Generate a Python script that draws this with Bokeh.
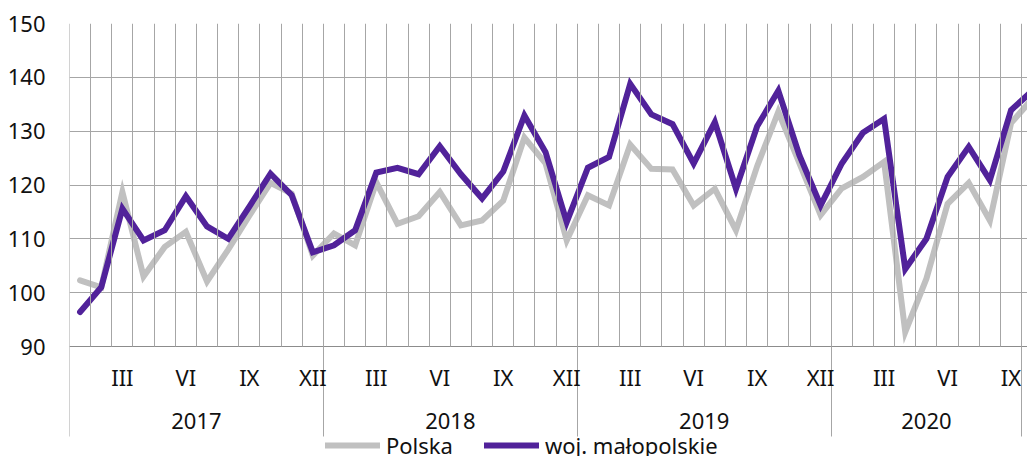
from bokeh.plotting import figure
from bokeh.models import Range1d, FixedTicker, LinearAxis, Legend, LegendItem
from bokeh.embed import file_html
from bokeh.resources import INLINE

# ---- data -------------------------------------------------------------
years = ["2017", "2018", "2019", "2020"]
year_group_sizes = [12, 12, 12, 9]          # months shown per year group on the axis
month_marks = {3: "III", 6: "VI", 9: "IX", 12: "XII"}
y_ticks = [90, 100, 110, 120, 130, 140, 150]

polska = [
    102.3, 101.0, 118.7, 103.0, 108.5, 111.3, 102.1, 108.0, 114.3, 120.4, 118.4, 106.9,
    111.0, 108.8, 120.5, 112.8, 114.2, 118.7, 112.5, 113.4, 117.1, 128.8, 124.0, 109.7,
    118.1, 116.2, 127.5, 123.0, 122.9, 116.2, 119.3, 111.6, 123.5, 133.6, 124.0, 114.4,
    119.4, 121.5, 124.3, 92.7, 102.6, 116.5, 120.4, 113.4, 131.5, 136.0,
]
malopolskie = [
    96.4, 101.0, 115.6, 109.7, 111.6, 117.9, 112.3, 110.0, 116.0, 122.1, 118.1, 107.5,
    108.8, 111.6, 122.3, 123.2, 122.0, 127.2, 122.0, 117.5, 122.5, 132.9, 126.1, 113.1,
    123.2, 125.2, 138.8, 133.1, 131.3, 124.0, 131.7, 119.3, 130.9, 137.5, 125.5, 116.2,
    124.0, 129.7, 132.3, 104.4, 110.0, 121.5, 127.1, 120.9, 133.9, 137.5,
]

# ---- derived positions (month index = category centre) ----------------
x = list(range(len(polska)))
month_ticks, month_labels = [], {}
year_centers, year_labels, dividers = [], {}, [-0.5]
start = 0
for yname, size in zip(years, year_group_sizes):
    for m, lab in month_marks.items():
        if m <= size:
            t = float(start + m - 1)
            month_ticks.append(t)
            month_labels[t] = lab
    c = start + size / 2 - 0.5
    year_centers.append(c)
    year_labels[c] = yname
    start += size
    dividers.append(start - 0.5)
boundaries = [k - 0.5 for k in range(0, 50)]

FONT = "Noto Sans"
FS = "22px"
TXT = "#111111"
GRID = "#a6a6a6"
GRAY = "#c0c0c0"
PURPLE = "#51229a"

# layout geometry (pixels)
PLOT_H = 323            # height of the 90..150 band
EXTRA_H = 124           # room below the band for category labels and legend
DIV_LEN = 90
y_min, y_max = min(y_ticks), max(y_ticks)
y_start = y_min - EXTRA_H * (y_max - y_min) / PLOT_H

p = figure(frame_width=979, frame_height=PLOT_H + EXTRA_H, output_backend="svg",
           toolbar_location=None, x_axis_location=None,
           x_range=Range1d(-0.5, 45.77), y_range=Range1d(y_start, y_max),
           min_border_left=69, min_border_top=23, min_border_right=0, min_border_bottom=0)
p.outline_line_color = None
p.background_fill_color = "white"

# y axis
ya = p.yaxis[0]
ya.ticker = FixedTicker(ticks=y_ticks)
ya.axis_line_color = None
ya.major_tick_line_color = None
ya.major_tick_out = 0
ya.major_tick_in = 0
ya.minor_tick_line_color = None
ya.minor_tick_out = 0
ya.major_label_standoff = 24
ya.major_label_text_font = FONT
ya.major_label_text_font_size = FS
ya.major_label_text_color = TXT

p.xgrid.visible = False
p.ygrid.ticker = FixedTicker(ticks=y_ticks)
p.ygrid.grid_line_color = GRID

# category axis line at y=90: month gridlines as inward ticks, year dividers as outward ticks
ga = LinearAxis(fixed_location=y_min,
                ticker=FixedTicker(ticks=boundaries, minor_ticks=dividers))
ga.axis_line_color = "#8c8c8c"
ga.major_tick_in = PLOT_H
ga.major_tick_out = 0
ga.major_tick_line_color = GRID
ga.minor_tick_in = 0
ga.minor_tick_out = DIV_LEN
ga.minor_tick_line_color = GRID
ga.major_label_text_color = None
p.add_layout(ga, "below")

# month labels
ma = LinearAxis(fixed_location=y_min, ticker=FixedTicker(ticks=month_ticks),
                major_label_overrides=month_labels)
ma.axis_line_color = None
ma.major_tick_line_color = None
ma.major_tick_in = 0
ma.major_tick_out = 0
ma.minor_tick_line_color = None
ma.minor_tick_in = 0
ma.minor_tick_out = 0
ma.major_label_standoff = 15
ma.major_label_text_font = FONT
ma.major_label_text_font_size = FS
ma.major_label_text_color = TXT
p.add_layout(ma, "below")

# year labels
yr = LinearAxis(fixed_location=y_min, ticker=FixedTicker(ticks=year_centers),
                major_label_overrides=year_labels)
yr.axis_line_color = None
yr.major_tick_line_color = None
yr.major_tick_in = 0
yr.major_tick_out = 0
yr.minor_tick_line_color = None
yr.minor_tick_in = 0
yr.minor_tick_out = 0
yr.major_label_standoff = 66
yr.major_label_text_font = FONT
yr.major_label_text_font_size = FS
yr.major_label_text_color = TXT
p.add_layout(yr, "below")

r1 = p.line(x, polska, line_color=GRAY, line_width=6, line_join="miter", line_cap="round")
r2 = p.line(x, malopolskie, line_color=PURPLE, line_width=6, line_join="miter", line_cap="round")

legend = Legend(items=[LegendItem(label="Polska", renderers=[r1]),
                       LegendItem(label="woj. małopolskie", renderers=[r2])],
                orientation="horizontal", location=(256, 10),
                glyph_width=55, glyph_height=20, label_standoff=6, spacing=31,
                padding=0, margin=0, border_line_color=None, background_fill_alpha=0,
                label_text_font=FONT, label_text_font_size=FS, label_text_color=TXT)
p.add_layout(legend, "center")

open("out.html", "w").write(file_html(p, INLINE))
